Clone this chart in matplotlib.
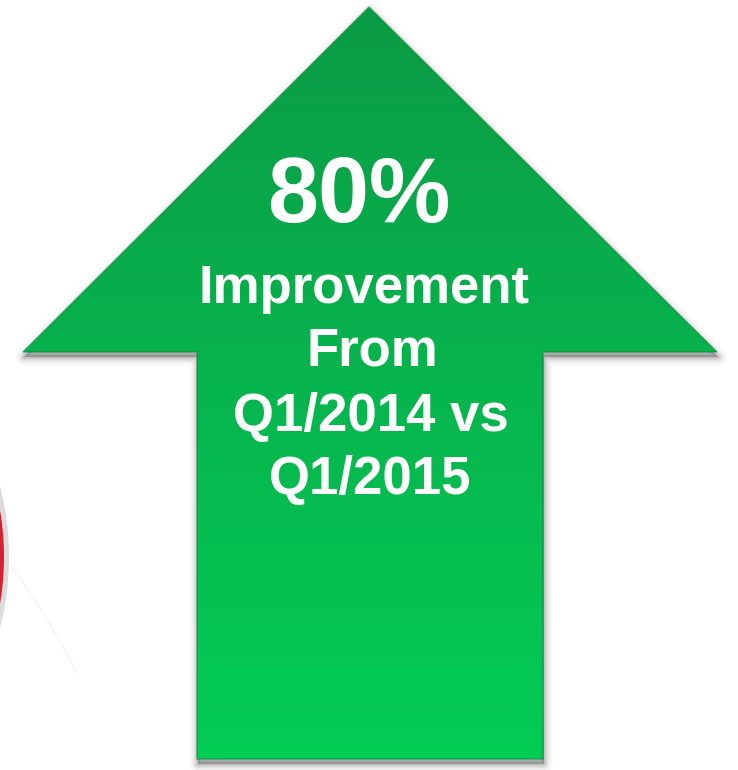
import numpy as np
import matplotlib.pyplot as plt
from matplotlib.patches import Polygon, Arc, Wedge

# chart content
improvement_pct = 80
caption = ["Improvement", "From", "Q1/2014 vs", "Q1/2015"]

W, H = 738, 770
fig = plt.figure(figsize=(W / 100, H / 100), dpi=100)
ax = fig.add_axes([0, 0, 1, 1])
ax.set_xlim(0, W)
ax.set_ylim(H, 0)
ax.axis('off')

# arrow outline (pixel coordinates, y down)
arrow = np.array([
    [369, 7], [717, 352], [543, 352], [543, 759],
    [197, 759], [197, 352], [23, 352],
])

# soft shadow
for lw, a in [(12, 0.03), (8, 0.05), (5, 0.07), (2.5, 0.1)]:
    sh = Polygon(arrow + [1, 5], closed=True, facecolor=(0, 0, 0, a),
                 edgecolor=(0, 0, 0, a), lw=lw, joinstyle='round')
    ax.add_patch(sh)

# gradient fill clipped to arrow
top = np.array([0x0b, 0x9b, 0x45]) / 255
bot = np.array([0x03, 0xcd, 0x56]) / 255
t = np.linspace(0, 1, 256)[:, None]
grad = (top * (1 - t) + bot * t)[:, None, :]
poly = Polygon(arrow, closed=True, facecolor='none', edgecolor='none')
ax.add_patch(poly)
im = ax.imshow(grad, extent=(0, W, 759, 7), aspect='auto', zorder=2,
               interpolation='bilinear')
im.set_clip_path(poly)
ax.add_patch(Polygon(arrow, closed=True, facecolor='none',
                     edgecolor='#08843a', lw=1.2, alpha=0.5, zorder=3))

# partial circle at left edge
ax.add_patch(Wedge((-276, 557), 285, -20, 20, width=6, facecolor='#dcdcdc',
                   edgecolor='none', zorder=1))
ax.add_patch(Wedge((-276, 557), 280, -12, 12, width=8, facecolor='#d8202e',
                   edgecolor='none', zorder=1))
ax.add_patch(Arc((-629, 1034), 1586, 1586, theta1=-36.4, theta2=-27,
                 color='#f3f3f3', lw=0.8, zorder=1))

# text
ax.text(359, 198, f"{improvement_pct}%", color='white', ha='center',
        va='center', fontsize=66, fontweight='bold',
        family='Liberation Sans', zorder=4)
ys = [289, 352, 417, 480]
xs = [364, 372, 371, 370]
for x, y, line in zip(xs, ys, caption):
    ax.text(x, y, line, color='white', ha='center', va='center',
            fontsize=38, fontweight='bold', family='Liberation Sans',
            zorder=4)

fig.savefig('out.png', dpi=100)
